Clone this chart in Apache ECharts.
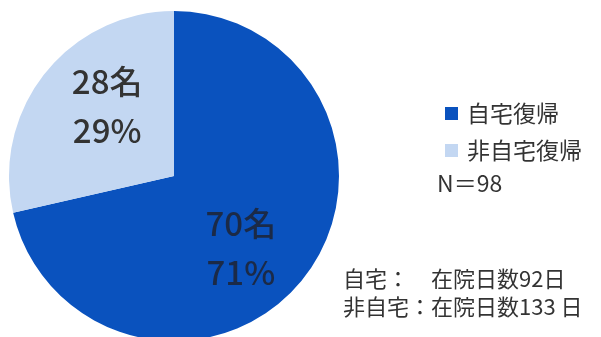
<!DOCTYPE html>
<html>
<head>
<meta charset="utf-8">
<script src="https://cdn.jsdelivr.net/npm/echarts@6/dist/echarts.min.js"></script>
<style>
  html, body { margin: 0; padding: 0; background: #fff; }
  #chart { width: 601px; height: 337px; }
</style>
</head>
<body>
<div id="chart"></div>
<script>
// Discharge destination of patients
const categories = ['自宅復帰', '非自宅復帰'];
const patientCounts = [70, 28];
const sliceColors = ['#0A52BE', '#C3D7F2'];
const stayLabels = ['自宅：　在院日数', '非自宅：在院日数'];
const stayDays = [92, 133];
const staySuffix = ['日', ' 日'];

const FONT = '"Noto Sans CJK JP", "Noto Sans", sans-serif';
const total = patientCounts.reduce((a, b) => a + b, 0);

const chart = echarts.init(document.getElementById('chart'));

// a blank spacer line nudges each in-slice label off the mid-radius anchor
const labelFormats = ['{sp| }\n{c}名\n{d}%', '{c}名\n{d}%\n{sp| }'];
const spacerHeights = [38, 34];
const labelColors = ['#1b2a47', '#333333'];

chart.setOption({
  animation: false,
  legend: {
    orient: 'vertical',
    left: 445,
    top: 102,
    padding: 0,
    itemWidth: 13,
    itemHeight: 13,
    itemGap: 14,
    icon: 'rect',
    data: categories,
    textStyle: {
      fontFamily: FONT,
      fontSize: 23,
      lineHeight: 23,
      color: '#333333',
      padding: [0, 0, 0, 4]
    }
  },
  graphic: [
    {
      type: 'text',
      left: 437,
      top: 172,
      style: { text: 'N＝' + total, font: '23px ' + FONT, fill: '#333333' }
    },
    {
      type: 'text',
      left: 343,
      top: 265,
      style: {
        text: stayLabels.map((s, i) => s + stayDays[i] + staySuffix[i]).join('\n'),
        font: '22px ' + FONT,
        lineHeight: 28,
        fill: '#333333'
      }
    }
  ],
  series: [{
    type: 'pie',
    center: [174, 176],
    radius: [0, 165],
    startAngle: 90,
    clockwise: true,
    percentPrecision: 0,
    silent: true,
    labelLine: { show: false },
    data: categories.map((name, i) => ({
      name: name,
      value: patientCounts[i],
      itemStyle: { color: sliceColors[i] },
      label: {
        show: true,
        position: 'inside',
        formatter: labelFormats[i],
        fontFamily: FONT,
        fontSize: 33,
        fontWeight: 500,
        lineHeight: 49,
        color: labelColors[i],
        rich: {
          sp: { fontSize: 1, lineHeight: spacerHeights[i] }
        }
      }
    }))
  }]
});
</script>
</body>
</html>
